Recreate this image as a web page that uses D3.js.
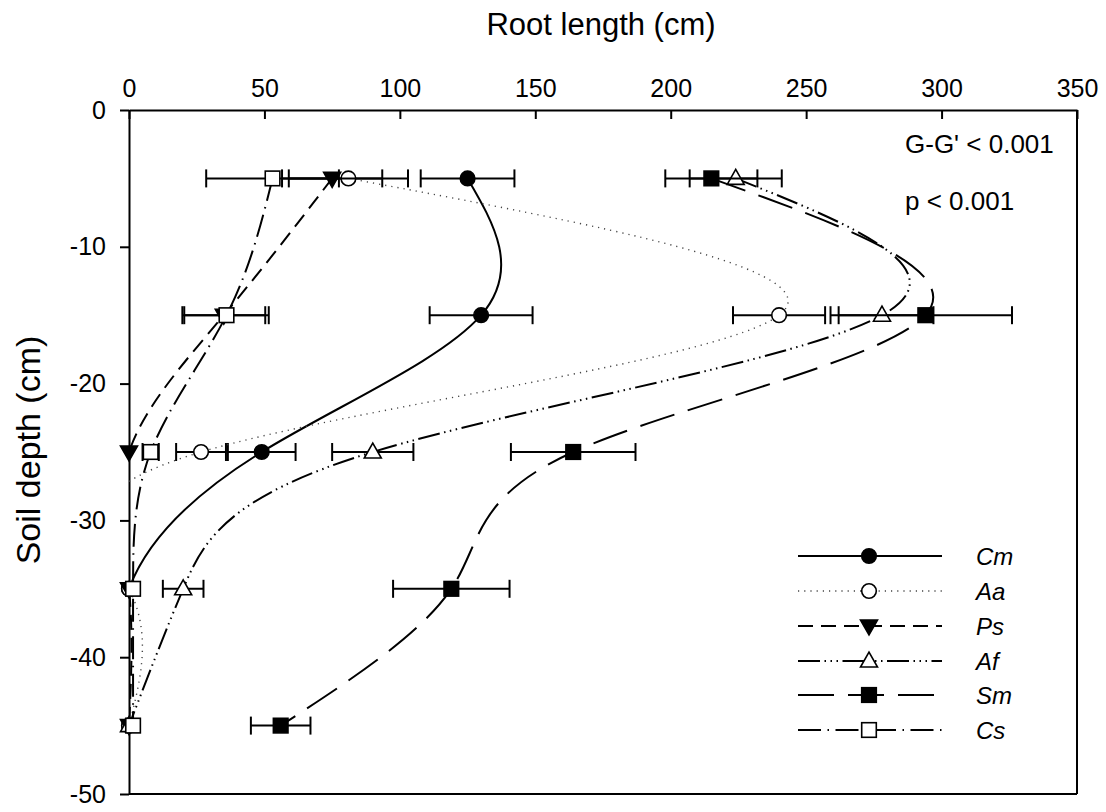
<!DOCTYPE html>
<html>
<head>
<meta charset="utf-8">
<script src="https://cdn.jsdelivr.net/npm/d3@7"></script>
<style>
  html, body { margin: 0; padding: 0; background: #fff; }
  svg { display: block; font-family: "Liberation Sans", Arial, sans-serif; }
</style>
</head>
<body>
<svg id="chart" width="1106" height="812"></svg>
<script>
// ---- data ----
const depths = [-5, -15, -25, -35, -45];
const seriesNames = ["Cm", "Aa", "Ps", "Af", "Sm", "Cs"];
const cmValues = [125, 130, 49, 0, 0];
const cmSE     = [17.3, 19, 12.5, 0, 0];
const aaValues = [81, 240, 26.6, 0, 0];
const aaSE     = [22, 17, 9.2, 0, 0];
const psValues = [75, 35, 0, 0, 0];
const psSE     = [18.5, 15.3, 0, 0, 0];
const afValues = [224, 278, 90, 20, 0];
const afSE     = [17, 19, 15, 7.5, 0];
const smValues = [215, 294, 164, 119, 56];
const smSE     = [17, 32, 23, 21.5, 11];
const csValues = [53, 36, 8, 1.5, 1.5];
const csSE     = [24.5, 15.6, 3, 0, 0];
const xTicks = [0, 50, 100, 150, 200, 250, 300, 350];
const yTicks = [0, -10, -20, -30, -40, -50];
const annotations = ["G-G' < 0.001", "p < 0.001"];

const styles = {
  Cm: {marker: "circle", fill: "#000", dash: null, lw: 2},
  Aa: {marker: "circle", fill: "#fff", dash: "1.2,5", lw: 1.4, color: "#444"},
  Ps: {marker: "triDown", fill: "#000", dash: "15,8", lw: 2},
  Af: {marker: "triUp", fill: "#fff", dash: "22,4.5,1.5,4.5,1.5,4.5,1.5,4.5", lw: 2},
  Sm: {marker: "square", fill: "#000", dash: "36,14", lw: 2},
  Cs: {marker: "square", fill: "#fff", dash: "23,6.5,1.5,6.5", lw: 2}
};
const valueLists = {Cm: cmValues, Aa: aaValues, Ps: psValues, Af: afValues, Sm: smValues, Cs: csValues};
const seLists = {Cm: cmSE, Aa: aaSE, Ps: psSE, Af: afSE, Sm: smSE, Cs: csSE};
const series = seriesNames.map(n => Object.assign({name: n, values: valueLists[n], se: seLists[n]}, styles[n]));

// ---- layout ----
const svg = d3.select("#chart");
const x = d3.scaleLinear().domain([0, 350]).range([129, 1077]);
const y = d3.scaleLinear().domain([0, -50]).range([110, 794]);

svg.append("defs").append("clipPath").attr("id", "plotclip")
  .append("rect").attr("x", 129).attr("y", 110).attr("width", 1077 - 129).attr("height", 794 - 110);

// frame (right and bottom)
svg.append("line").attr("x1", x(350)).attr("x2", x(350)).attr("y1", y(0)).attr("y2", y(-50))
  .attr("stroke", "#000").attr("stroke-width", 2);
svg.append("line").attr("x1", x(0)).attr("x2", x(350)).attr("y1", y(-50)).attr("y2", y(-50))
  .attr("stroke", "#000").attr("stroke-width", 2);

// top axis (ticks inward)
const xAxis = d3.axisTop(x).tickValues(xTicks).tickSizeInner(-9).tickSizeOuter(0).tickPadding(13)
  .tickFormat(d => String(d));
const gx = svg.append("g").attr("transform", `translate(0,${y(0)})`).call(xAxis);
gx.selectAll("path.domain").attr("stroke-width", 2);
gx.selectAll(".tick line").attr("stroke-width", 2);
gx.selectAll("text").attr("font-size", 25).attr("fill", "#000")
  .attr("font-family", "'Liberation Sans', Arial, sans-serif");

// left axis (ticks outward)
const yAxis = d3.axisLeft(y).tickValues(yTicks).tickSizeInner(9).tickSizeOuter(0).tickPadding(14)
  .tickFormat(d => String(d));
const gy = svg.append("g").attr("transform", `translate(${x(0)},0)`).call(yAxis);
gy.selectAll("path.domain").attr("stroke-width", 2);
gy.selectAll(".tick line").attr("stroke-width", 2);
gy.selectAll("text").attr("font-size", 25).attr("fill", "#000")
  .attr("font-family", "'Liberation Sans', Arial, sans-serif");

// axis titles
svg.append("text").attr("x", 601).attr("y", 35).attr("text-anchor", "middle")
  .attr("font-size", 31).text("Root length (cm)");
svg.append("text").attr("transform", "translate(40,450) rotate(-90)").attr("text-anchor", "middle")
  .attr("font-size", 34).text("Soil depth (cm)");

// markers
function drawMarker(g, type, cx, cy, fill) {
  if (type === "circle") {
    g.append("circle").attr("cx", cx).attr("cy", cy).attr("r", 7.3)
      .attr("fill", fill).attr("stroke", "#000").attr("stroke-width", 1.6);
  } else if (type === "square") {
    g.append("rect").attr("x", cx - 7.3).attr("y", cy - 7.3).attr("width", 14.6).attr("height", 14.6)
      .attr("fill", fill).attr("stroke", "#000").attr("stroke-width", 1.6);
  } else if (type === "triDown") {
    g.append("path").attr("d", `M${cx - 8.5},${cy - 6} L${cx + 8.5},${cy - 6} L${cx},${cy + 9} Z`)
      .attr("fill", fill).attr("stroke", "#000").attr("stroke-width", 1.6);
  } else if (type === "triUp") {
    g.append("path").attr("d", `M${cx - 8.5},${cy + 6} L${cx + 8.5},${cy + 6} L${cx},${cy - 9} Z`)
      .attr("fill", fill).attr("stroke", "#000").attr("stroke-width", 1.6);
  }
}

const line = d3.line().x(d => x(d.v)).y(d => y(d.d)).curve(d3.curveNatural);

series.forEach(s => {
  const g = svg.append("g");
  const pts = depths.map((d, i) => ({d: d, v: s.values[i], se: s.se[i]}));
  g.append("path").datum(pts).attr("d", line).attr("fill", "none")
    .attr("stroke", s.color || "#000").attr("stroke-width", s.lw)
    .attr("stroke-dasharray", s.dash).attr("clip-path", "url(#plotclip)");
  // error bars
  pts.filter(p => p.se > 0).forEach(p => {
    const yy = y(p.d), x1 = x(p.v - p.se), x2 = x(p.v + p.se);
    g.append("line").attr("x1", x1).attr("x2", x2).attr("y1", yy).attr("y2", yy)
      .attr("stroke", "#000").attr("stroke-width", 2);
    [x1, x2].forEach(xx => g.append("line").attr("x1", xx).attr("x2", xx)
      .attr("y1", yy - 9).attr("y2", yy + 9).attr("stroke", "#000").attr("stroke-width", 2));
  });
  pts.forEach(p => drawMarker(g, s.marker, x(p.v), y(p.d), s.fill));
});

// annotations
annotations.forEach((t, i) => {
  svg.append("text").attr("x", 905).attr("y", i === 0 ? 153 : 210).attr("font-size", 26).text(t);
});

// legend
const legY = [556, 591, 626, 661, 695, 730];
series.forEach((s, i) => {
  const g = svg.append("g");
  const ly = legY[i];
  g.append("line").attr("x1", 798).attr("x2", 942).attr("y1", ly).attr("y2", ly)
    .attr("stroke", s.color || "#000").attr("stroke-width", s.lw).attr("stroke-dasharray", s.dash);
  drawMarker(g, s.marker, 869, ly, s.fill);
  g.append("text").attr("x", 976).attr("y", ly + 9).attr("font-size", 24)
    .attr("font-style", "italic").text(s.name);
});
</script>
</body>
</html>
